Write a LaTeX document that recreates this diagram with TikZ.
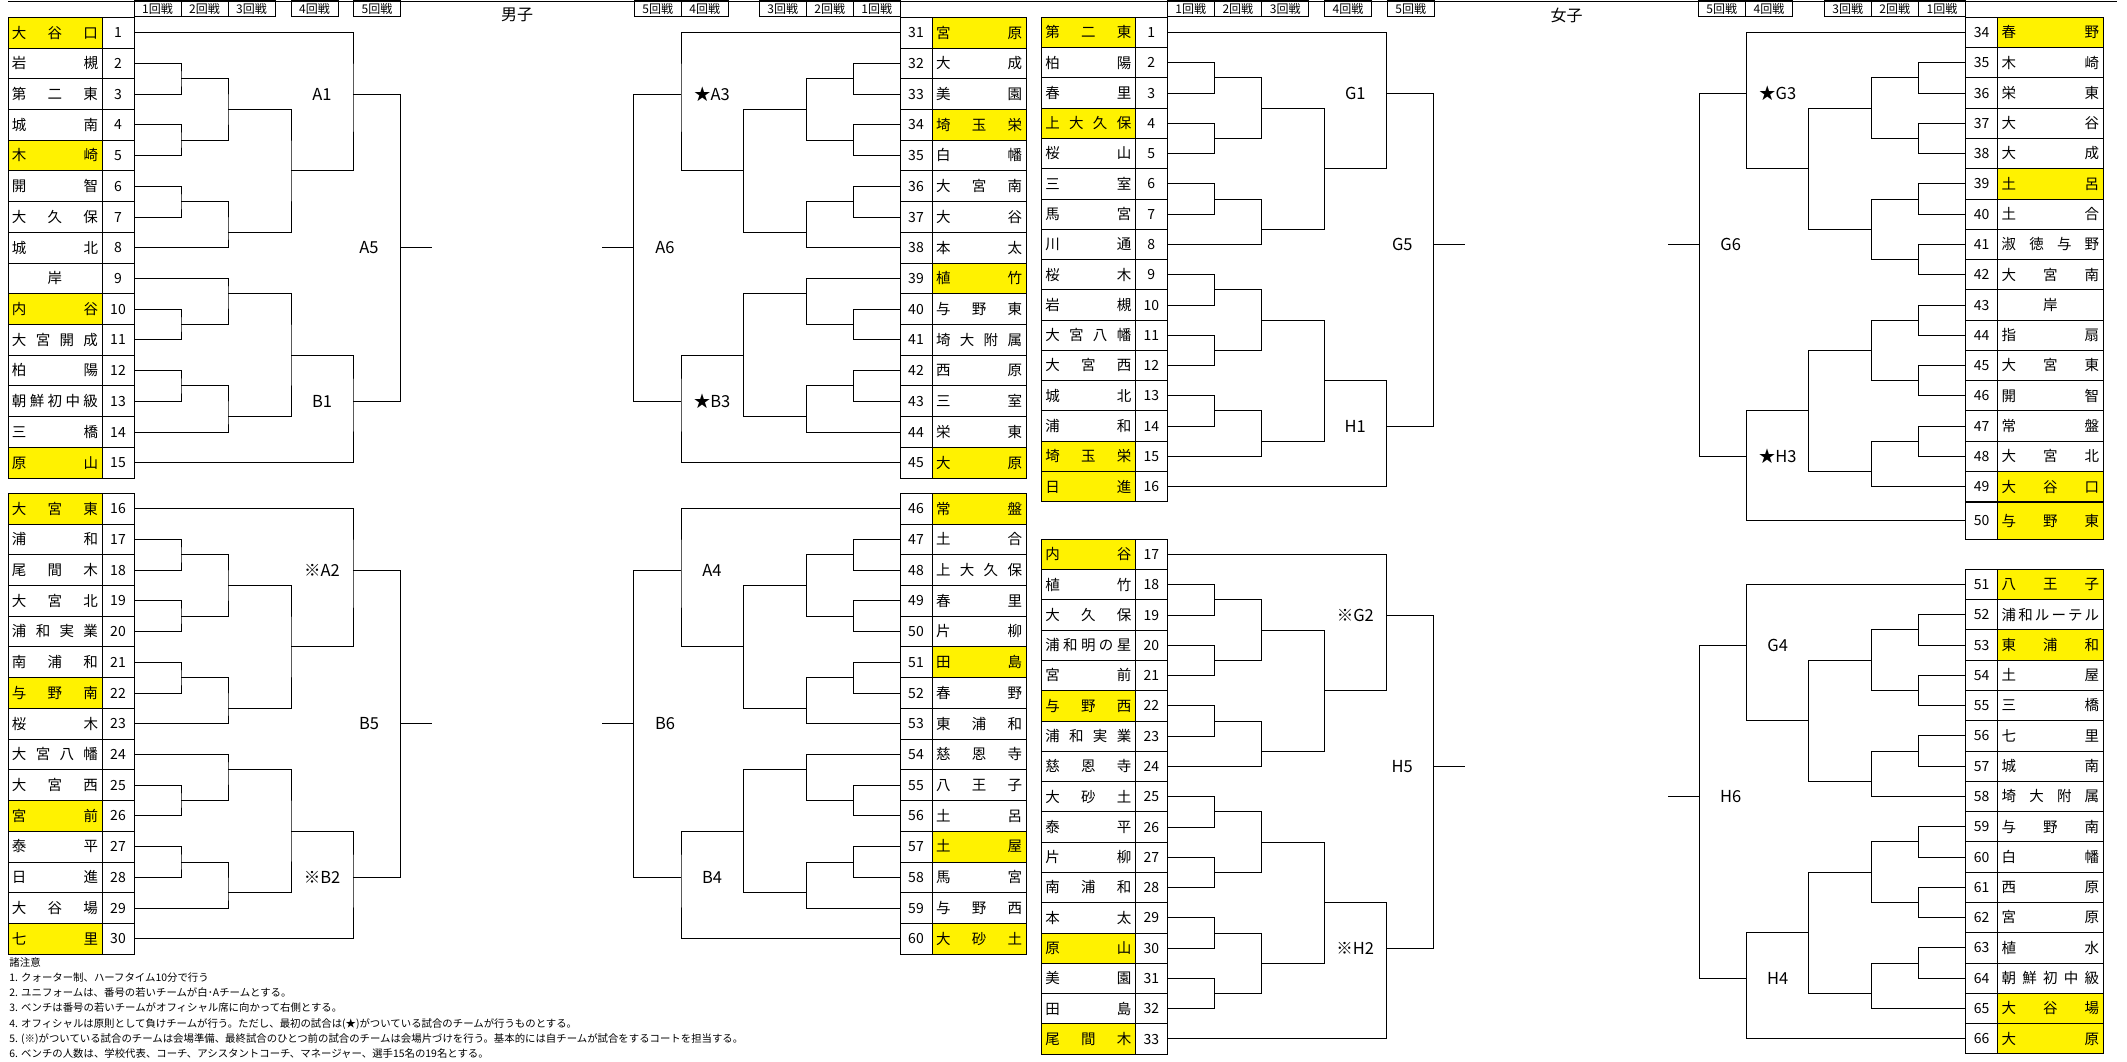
\documentclass[tikz,border=0pt]{standalone}
\usepackage{fontspec}
\setmainfont{Noto Sans CJK JP}

\newlength\namew
\setlength\namew{86pt}
\newcommand{\dropone}[1]{}
\newcommand{\spacedloop}[2]{#1\ifx\relax#2\expandafter\dropone\else\hfill\expandafter\spacedloop\fi{#2}}
\newcommand{\spaced}[1]{\makebox[\namew]{\expandafter\spacedloop#1\relax}}

\tikzset{
  numcell/.style={draw, inner sep=0pt, minimum width=32pt, text height=10.2pt, text depth=0pt,
    font=\fontsize{14}{14}\selectfont},
  namecell/.style={draw, inner sep=0pt, minimum width=94pt, text height=10.8pt, text depth=0pt,
    font=\fontsize{14.5}{14.5}\selectfont},
  row height/.style={numcell/.append style={minimum height=#1}, namecell/.append style={minimum height=#1}},
  roundbox/.style={draw, inner sep=0pt, minimum width=47pt, minimum height=16pt,
    font=\fontsize{12}{12}\selectfont},
  matchlabel/.style={inner sep=0pt, font=\fontsize{16.5}{16.5}\selectfont},
  title/.style={inner sep=0pt, font=\fontsize{16}{16}\selectfont},
}

% 15 teams, boys
\newcommand{\menbracket}[4]{%
  \coordinate (#1-a) at (47,4);     \draw (#12) -| (#1-a) |- (#13);
  \coordinate (#1-b) at (47,8);     \draw (#14) -| (#1-b) |- (#15);
  \coordinate (#1-c) at (47,12);    \draw (#16) -| (#1-c) |- (#17);
  \coordinate (#1-d) at (94,6);     \draw (#1-a) -| (#1-d) |- (#1-b);
  \coordinate (#1-e) at (94,14);    \draw (#1-c) -| (#1-e) |- (#18);
  \coordinate (#1-f) at (157,10);   \draw (#1-d) -| (#1-f) |- (#1-e);
  \coordinate (#1-g) at (219,5);    \draw (#11) -| (#1-g) |- (#1-f);
  \coordinate (#1-h) at (47,20);    \draw (#110) -| (#1-h) |- (#111);
  \coordinate (#1-i) at (94,18);    \draw (#19) -| (#1-i) |- (#1-h);
  \coordinate (#1-j) at (47,24);    \draw (#112) -| (#1-j) |- (#113);
  \coordinate (#1-k) at (94,26);    \draw (#1-j) -| (#1-k) |- (#114);
  \coordinate (#1-l) at (157,22);   \draw (#1-i) -| (#1-l) |- (#1-k);
  \coordinate (#1-m) at (219,25);   \draw (#1-l) -| (#1-m) |- (#115);
  \coordinate (#1-n) at (266.5,15); \draw (#1-g) -| (#1-n) |- (#1-m);
  \coordinate (#1-end) at (298,15); \draw (#1-n) -- (#1-end);
  \node[matchlabel] (#1-top) at (188,5) {#2};
  \node[matchlabel] (#1-bot) at (188,25) {#3};
  \node[matchlabel] (#1-fin) at (235,15) {#4};
}

% 16 teams, girls
\newcommand{\girlsbracket}[4]{%
  \coordinate (#1-a) at (47,4);     \draw (#12) -| (#1-a) |- (#13);
  \coordinate (#1-b) at (47,8);     \draw (#14) -| (#1-b) |- (#15);
  \coordinate (#1-c) at (47,12);    \draw (#16) -| (#1-c) |- (#17);
  \coordinate (#1-d) at (94,6);     \draw (#1-a) -| (#1-d) |- (#1-b);
  \coordinate (#1-e) at (94,14);    \draw (#1-c) -| (#1-e) |- (#18);
  \coordinate (#1-f) at (157,10);   \draw (#1-d) -| (#1-f) |- (#1-e);
  \coordinate (#1-g) at (219,5);    \draw (#11) -| (#1-g) |- (#1-f);
  \coordinate (#1-h) at (47,18);    \draw (#19) -| (#1-h) |- (#110);
  \coordinate (#1-i) at (47,22);    \draw (#111) -| (#1-i) |- (#112);
  \coordinate (#1-j) at (94,20);    \draw (#1-h) -| (#1-j) |- (#1-i);
  \coordinate (#1-k) at (47,26);    \draw (#113) -| (#1-k) |- (#114);
  \coordinate (#1-l) at (94,28);    \draw (#1-k) -| (#1-l) |- (#115);
  \coordinate (#1-m) at (157,24);   \draw (#1-j) -| (#1-m) |- (#1-l);
  \coordinate (#1-n) at (219,27);   \draw (#1-m) -| (#1-n) |- (#116);
  \coordinate (#1-o) at (266.5,15); \draw (#1-g) -| (#1-o) |- (#1-n);
  \coordinate (#1-end) at (298,15); \draw (#1-o) -- (#1-end);
  \node[matchlabel] (#1-top) at (188,5) {#2};
  \node[matchlabel] (#1-bot) at (188,27) {#3};
  \node[matchlabel] (#1-fin) at (235,15) {#4};
}

\begin{document}
\begin{tikzpicture}[x=1pt, y=-1pt, line width=0.9pt]
  \useasboundingbox (0,0) rectangle (2127,1062);
  \draw (8,1) -- (2117,1);

  % round headers
  \foreach \x/\t [count=\i] in {157.5/1回戦, 204.5/2回戦, 251.5/3回戦, 314.5/4回戦, 377/5回戦,
      657.7/5回戦, 704.7/4回戦, 782.7/3回戦, 829.7/2回戦, 876.7/1回戦,
      1190.8/1回戦, 1237.9/2回戦, 1285.2/3回戦, 1348/4回戦, 1410.8/5回戦,
      1721.8/5回戦, 1769/4回戦, 1847.8/3回戦, 1894.8/2回戦, 1942/1回戦}
    \node[roundbox] (hd\i) at (\x,8.5) {\t};
  \node[title] (boys) at (517,15) {男子};
  \node[title] (girls) at (1566.5,15) {女子};

  % boys, left top
  \begin{scope}[shift={(134,17.3)}, y=-15.36pt, row height=30.72pt]
    \foreach \nr/\nm/\fc [count=\r] in {1/大谷口/yellow, 2/岩槻/white, 3/第二東/white, 4/城南/white,
        5/木崎/yellow, 6/開智/white, 7/大久保/white, 8/城北/white, 9/岸/white, 10/内谷/yellow,
        11/大宮開成/white, 12/柏陽/white, 13/朝鮮初中級/white, 14/三橋/white, 15/原山/yellow}{
      \node[numcell] (ma\r) at (-16,2*\r-1) {\nr};
      \node[namecell, fill=\fc] (ma\r-n) at (-79,2*\r-1) {\spaced{\nm}};
    }
    \menbracket{ma}{A1}{B1}{A5}
  \end{scope}

  % boys, left bottom
  \begin{scope}[shift={(134,493.3)}, y=-15.36pt, row height=30.72pt]
    \foreach \nr/\nm/\fc [count=\r] in {16/大宮東/yellow, 17/浦和/white, 18/尾間木/white, 19/大宮北/white,
        20/浦和実業/white, 21/南浦和/white, 22/与野南/yellow, 23/桜木/white, 24/大宮八幡/white,
        25/大宮西/white, 26/宮前/yellow, 27/泰平/white, 28/日進/white, 29/大谷場/white, 30/七里/yellow}{
      \node[numcell] (mb\r) at (-16,2*\r-1) {\nr};
      \node[namecell, fill=\fc] (mb\r-n) at (-79,2*\r-1) {\spaced{\nm}};
    }
    \menbracket{mb}{※A2}{※B2}{B5}
  \end{scope}

  % boys, right top
  \begin{scope}[shift={(900,17.3)}, xscale=-1, y=-15.36pt, row height=30.72pt]
    \foreach \nr/\nm/\fc [count=\r] in {31/宮原/yellow, 32/大成/white, 33/美園/white, 34/埼玉栄/yellow,
        35/白幡/white, 36/大宮南/white, 37/大谷/white, 38/本太/white, 39/植竹/yellow, 40/与野東/white,
        41/埼大附属/white, 42/西原/white, 43/三室/white, 44/栄東/white, 45/大原/yellow}{
      \node[numcell] (mc\r) at (-16,2*\r-1) {\nr};
      \node[namecell, fill=\fc] (mc\r-n) at (-79,2*\r-1) {\spaced{\nm}};
    }
    \menbracket{mc}{★A3}{★B3}{A6}
  \end{scope}

  % boys, right bottom
  \begin{scope}[shift={(900,493.3)}, xscale=-1, y=-15.36pt, row height=30.72pt]
    \foreach \nr/\nm/\fc [count=\r] in {46/常盤/yellow, 47/土合/white, 48/上大久保/white, 49/春里/white,
        50/片柳/white, 51/田島/yellow, 52/春野/white, 53/東浦和/white, 54/慈恩寺/white, 55/八王子/white,
        56/土呂/white, 57/土屋/yellow, 58/馬宮/white, 59/与野西/white, 60/大砂土/yellow}{
      \node[numcell] (md\r) at (-16,2*\r-1) {\nr};
      \node[namecell, fill=\fc] (md\r-n) at (-79,2*\r-1) {\spaced{\nm}};
    }
    \menbracket{md}{A4}{B4}{B6}
  \end{scope}

  % girls, left top
  \begin{scope}[shift={(1167.3,17.3)}, y=-15.14pt, row height=30.28pt]
    \foreach \nr/\nm/\fc [count=\r] in {1/第二東/yellow, 2/柏陽/white, 3/春里/white, 4/上大久保/yellow,
        5/桜山/white, 6/三室/white, 7/馬宮/white, 8/川通/white, 9/桜木/white, 10/岩槻/white,
        11/大宮八幡/white, 12/大宮西/white, 13/城北/white, 14/浦和/white, 15/埼玉栄/yellow, 16/日進/yellow}{
      \node[numcell] (wa\r) at (-16,2*\r-1) {\nr};
      \node[namecell, fill=\fc] (wa\r-n) at (-79,2*\r-1) {\spaced{\nm}};
    }
    \girlsbracket{wa}{G1}{H1}{G5}
  \end{scope}

  % girls, left bottom
  \begin{scope}[shift={(1167.3,539.3)}, y=-15.14pt, row height=30.28pt]
    \foreach \nr/\nm/\fc [count=\r] in {17/内谷/yellow, 18/植竹/white, 19/大久保/white, 20/浦和明の星/white,
        21/宮前/white, 22/与野西/yellow, 23/浦和実業/white, 24/慈恩寺/white, 25/大砂土/white, 26/泰平/white,
        27/片柳/white, 28/南浦和/white, 29/本太/white, 30/原山/yellow, 31/美園/white, 32/田島/white,
        33/尾間木/yellow}{
      \node[numcell] (wb\r) at (-16,2*\r-1) {\nr};
      \node[namecell, fill=\fc] (wb\r-n) at (-79,2*\r-1) {\spaced{\nm}};
    }
    \coordinate (wb-a) at (47,4);     \draw (wb2) -| (wb-a) |- (wb3);
    \coordinate (wb-b) at (47,8);     \draw (wb4) -| (wb-b) |- (wb5);
    \coordinate (wb-c) at (47,12);    \draw (wb6) -| (wb-c) |- (wb7);
    \coordinate (wb-d) at (94,6);     \draw (wb-a) -| (wb-d) |- (wb-b);
    \coordinate (wb-e) at (94,14);    \draw (wb-c) -| (wb-e) |- (wb8);
    \coordinate (wb-f) at (157,10);   \draw (wb-d) -| (wb-f) |- (wb-e);
    \coordinate (wb-g) at (219,5);    \draw (wb1) -| (wb-g) |- (wb-f);
    \coordinate (wb-h) at (47,18);    \draw (wb9) -| (wb-h) |- (wb10);
    \coordinate (wb-i) at (47,22);    \draw (wb11) -| (wb-i) |- (wb12);
    \coordinate (wb-j) at (94,20);    \draw (wb-h) -| (wb-j) |- (wb-i);
    \coordinate (wb-k) at (47,26);    \draw (wb13) -| (wb-k) |- (wb14);
    \coordinate (wb-l) at (47,30);    \draw (wb15) -| (wb-l) |- (wb16);
    \coordinate (wb-m) at (94,28);    \draw (wb-k) -| (wb-m) |- (wb-l);
    \coordinate (wb-n) at (157,24);   \draw (wb-j) -| (wb-n) |- (wb-m);
    \coordinate (wb-o) at (219,27);   \draw (wb-n) -| (wb-o) |- (wb17);
    \coordinate (wb-p) at (266.5,15); \draw (wb-g) -| (wb-p) |- (wb-o);
    \coordinate (wb-end) at (298,15); \draw (wb-p) -- (wb-end);
    \node[matchlabel] (wb-top) at (188,5) {※G2};
    \node[matchlabel] (wb-bot) at (188,27) {※H2};
    \node[matchlabel] (wb-fin) at (235,15) {H5};
  \end{scope}

  % girls, right top
  \begin{scope}[shift={(1965.7,17.3)}, xscale=-1, y=-15.14pt, row height=30.28pt,
      namecell/.append style={minimum width=105.5pt}]
    \setlength\namew{97.5pt}
    \foreach \nr/\nm/\fc [count=\r] in {34/春野/yellow, 35/木崎/white, 36/栄東/white, 37/大谷/white,
        38/大成/white, 39/土呂/yellow, 40/土合/white, 41/淑徳与野/white, 42/大宮南/white, 43/岸/white,
        44/指扇/white, 45/大宮東/white, 46/開智/white, 47/常盤/white, 48/大宮北/white, 49/大谷口/yellow}{
      \node[numcell] (wc\r) at (-16,2*\r-1) {\nr};
      \node[namecell, fill=\fc] (wc\r-n) at (-84.75,2*\r-1) {\spaced{\nm}};
    }
    \node[numcell, minimum height=37pt] (wc17) at (-16,33.25) {50};
    \node[namecell, minimum height=37pt, fill=yellow] (wc17-n) at (-84.75,33.25) {\spaced{与野東}};
    \coordinate (wc-a) at (47,4);     \draw (wc2) -| (wc-a) |- (wc3);
    \coordinate (wc-b) at (47,8);     \draw (wc4) -| (wc-b) |- (wc5);
    \coordinate (wc-c) at (47,12);    \draw (wc6) -| (wc-c) |- (wc7);
    \coordinate (wc-d) at (47,16);    \draw (wc8) -| (wc-d) |- (wc9);
    \coordinate (wc-e) at (94,6);     \draw (wc-a) -| (wc-e) |- (wc-b);
    \coordinate (wc-f) at (94,14);    \draw (wc-c) -| (wc-f) |- (wc-d);
    \coordinate (wc-g) at (157,10);   \draw (wc-e) -| (wc-g) |- (wc-f);
    \coordinate (wc-h) at (219,5);    \draw (wc1) -| (wc-h) |- (wc-g);
    \coordinate (wc-i) at (47,20);    \draw (wc10) -| (wc-i) |- (wc11);
    \coordinate (wc-j) at (47,24);    \draw (wc12) -| (wc-j) |- (wc13);
    \coordinate (wc-k) at (94,22);    \draw (wc-i) -| (wc-k) |- (wc-j);
    \coordinate (wc-l) at (47,28);    \draw (wc14) -| (wc-l) |- (wc15);
    \coordinate (wc-m) at (94,30);    \draw (wc-l) -| (wc-m) |- (wc16);
    \coordinate (wc-n) at (157,26);   \draw (wc-k) -| (wc-n) |- (wc-m);
    \coordinate (wc-o) at (219,29);   \draw (wc-n) -| (wc-o) |- (wc17);
    \coordinate (wc-p) at (266.5,15); \draw (wc-h) -| (wc-p) |- (wc-o);
    \coordinate (wc-end) at (298,15); \draw (wc-p) -- (wc-end);
    \node[matchlabel] (wc-top) at (188,5) {★G3};
    \node[matchlabel] (wc-bot) at (188,29) {★H3};
    \node[matchlabel] (wc-fin) at (235,15) {G6};
  \end{scope}

  % girls, right bottom
  \begin{scope}[shift={(1965.7,569.3)}, xscale=-1, y=-15.14pt, row height=30.28pt,
      namecell/.append style={minimum width=105.5pt}]
    \setlength\namew{97.5pt}
    \foreach \nr/\nm/\fc [count=\r] in {51/八王子/yellow, 52/浦和ルーテル/white, 53/東浦和/yellow, 54/土屋/white,
        55/三橋/white, 56/七里/white, 57/城南/white, 58/埼大附属/white, 59/与野南/white, 60/白幡/white,
        61/西原/white, 62/宮原/white, 63/植水/white, 64/朝鮮初中級/white, 65/大谷場/yellow, 66/大原/yellow}{
      \node[numcell] (wd\r) at (-16,2*\r-1) {\nr};
      \node[namecell, fill=\fc] (wd\r-n) at (-84.75,2*\r-1) {\spaced{\nm}};
    }
    \girlsbracket{wd}{G4}{H4}{H6}
  \end{scope}

  % notes
  \node[anchor=north west, align=left, inner sep=0pt, font=\fontsize{10.4}{15.2}\selectfont] (notes) at (9,957) {%
    諸注意\\
    1. クォーター制、ハーフタイム10分で行う\\
    2. ユニフォームは、番号の若いチームが白･Aチームとする。\\
    3. ベンチは番号の若いチームがオフィシャル席に向かって右側とする。\\
    4. オフィシャルは原則として負けチームが行う。ただし、最初の試合は(★)がついている試合のチームが行うものとする。\\
    5. (※)がついている試合のチームは会場準備、最終試合のひとつ前の試合のチームは会場片づけを行う。基本的には自チームが試合をするコートを担当する。\\
    6. ベンチの人数は、学校代表、コーチ、アシスタントコーチ、マネージャー、選手15名の19名とする。};
\end{tikzpicture}
\end{document}
